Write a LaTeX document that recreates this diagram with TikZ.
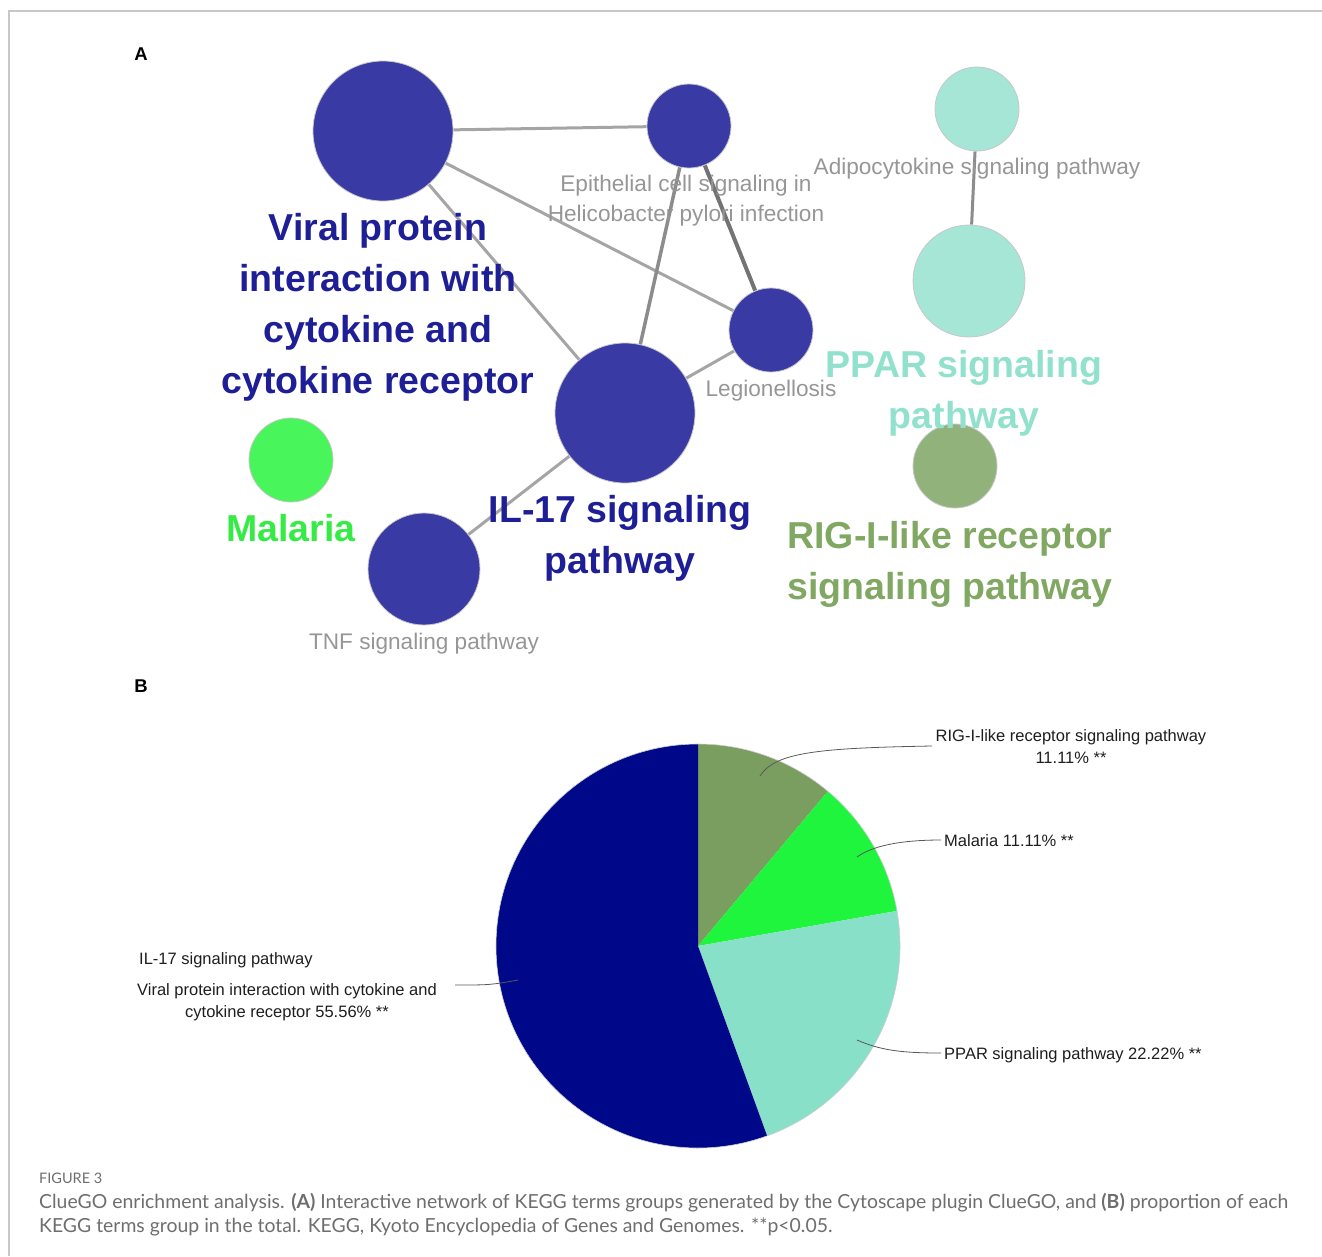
\documentclass[tikz,border=0pt]{standalone}
\usepackage{fontspec}
\setmainfont{Liberation Sans}
\newfontfamily\capfont{Lato}
\usetikzlibrary{backgrounds}
\definecolor{netblue}{RGB}{58,58,165}
\definecolor{netteal}{RGB}{166,230,214}
\definecolor{netmal}{RGB}{72,245,90}
\definecolor{netrig}{RGB}{145,178,122}
\definecolor{lblblue}{RGB}{30,30,150}
\definecolor{lblteal}{RGB}{145,225,205}
\definecolor{lblmal}{RGB}{55,235,70}
\definecolor{lblrig}{RGB}{128,168,98}
\definecolor{lblgray}{RGB}{150,150,150}
\definecolor{edgegray}{RGB}{165,165,165}
\definecolor{pieblue}{RGB}{0,8,138}
\definecolor{pierig}{RGB}{122,158,96}
\definecolor{piemal}{RGB}{30,245,60}
\definecolor{pieppar}{RGB}{137,224,200}
\definecolor{pietext}{RGB}{30,30,30}
\definecolor{capgray}{RGB}{110,110,110}
\definecolor{framegray}{RGB}{200,200,200}
\tikzset{
  x=1pt, y=-1pt,
  term/.style={circle, inner sep=0pt, draw=black!22, line width=0.8pt},
  edge/.style={draw=edgegray, line width=3pt},
  bigbold/.style={font=\fontsize{37.5}{51}\selectfont\bfseries, align=center, anchor=base, inner sep=0pt},
  graylbl/.style={font=\fontsize{22.6}{30}\selectfont, text=lblgray, align=center, anchor=base, inner sep=0pt},
  pielbl/.style={font=\fontsize{16.5}{22}\selectfont, text=pietext, inner sep=0pt, anchor=base},
  leader/.style={draw=black!65, line width=0.8pt},
  panel/.style={font=\fontsize{18.5}{20}\selectfont\bfseries, anchor=base, inner sep=0pt},
}
\begin{document}
\begin{tikzpicture}
\useasboundingbox (0,0) rectangle (1322,1256);
\draw[framegray, line width=1.2pt] (1322,11) -- (9,11) -- (9,1256);

\node[panel] (pa) at (141,60) {A};
\node[panel] (pb) at (141,692) {B};

% network nodes
\node[term, fill=netblue, minimum size=140pt] (viral) at (383,131) {};
\node[term, fill=netblue, minimum size=84pt] (epi) at (689,126) {};
\node[term, fill=netblue, minimum size=84pt] (leg) at (771,330) {};
\node[term, fill=netblue, minimum size=140pt] (il17) at (625,413) {};
\node[term, fill=netblue, minimum size=112pt] (tnf) at (424,569) {};
\node[term, fill=netmal, minimum size=84pt] (mal) at (291,460) {};
\node[term, fill=netteal, minimum size=84pt] (adipo) at (977,109) {};
\node[term, fill=netteal, minimum size=112pt] (ppar) at (969,281) {};
\node[term, fill=netrig, minimum size=84pt] (rig) at (955,466) {};

\begin{scope}[on background layer]
\draw[edge] (viral) -- (epi);
\draw[edge] (viral) -- (leg);
\draw[edge] (viral) -- (il17);
\draw[edge, draw=black!45, line width=3.5pt] (epi) -- (il17);
\draw[edge, draw=black!55, line width=4pt] (epi) -- (leg);
\draw[edge] (leg) -- (il17);
\draw[edge] (il17) -- (tnf);
\draw[edge, draw=black!45] (adipo) -- (ppar);
\end{scope}

% network labels (anchor = baseline of last line)
\node[bigbold, text=lblblue] (lviral) at (378,393) {Viral protein\\interaction with\\cytokine and\\cytokine receptor};
\node[graylbl] (lepi) at (686,221) {Epithelial cell signaling in\\Helicobacter pylori infection};
\node[graylbl] (ladipo) at (977,174) {Adipocytokine signaling pathway};
\node[graylbl] (lleg) at (771,396) {Legionellosis};
\node[bigbold, text=lblteal] (lppar) at (964,428) {PPAR signaling\\pathway};
\node[bigbold, text=lblmal] (lmal) at (291,541) {Malaria};
\node[bigbold, text=lblblue] (lil17) at (620,573) {IL-17 signaling\\pathway};
\node[bigbold, text=lblrig] (lrig) at (950,599) {RIG-I-like receptor\\signaling pathway};
\node[graylbl] (ltnf) at (424,649) {TNF signaling pathway};

% pie chart
\begin{scope}[shift={(698,946)}, yscale=-1]
\fill[pierig] (0,0) -- (50:202) arc[start angle=50, end angle=90, radius=202] -- cycle;
\fill[piemal] (0,0) -- (10:202) arc[start angle=10, end angle=50, radius=202] -- cycle;
\fill[pieppar] (0,0) -- (-70:202) arc[start angle=-70, end angle=10, radius=202] -- cycle;
\fill[pieblue] (0,0) -- (90:202) arc[start angle=90, end angle=290, radius=202] -- cycle;
\draw[black!20, line width=0.6pt] (0,0) circle[radius=202];
\coordinate (srig) at (62,170);
\coordinate (smal) at (159,89);
\coordinate (sppar) at (159,-94);
\coordinate (sblue) at (-180,-34);
\end{scope}

\node[pielbl, align=center] (prig) at (1071,763) {RIG-I-like receptor signaling pathway\\11.11\% **};
\node[pielbl, anchor=base west] (pmal) at (944,846) {Malaria 11.11\% **};
\node[pielbl, anchor=base west] (pppar) at (944,1059) {PPAR signaling pathway 22.22\% **};
\node[pielbl, anchor=base west] (pil) at (139,964) {IL-17 signaling pathway};
\node[pielbl, align=center] (pviral) at (287,1017) {Viral protein interaction with cytokine and\\cytokine receptor 55.56\% **};

\coordinate (erig) at (932,746);
\coordinate (emal) at (941,840);
\coordinate (eppar) at (941,1053);
\coordinate (eblue) at (455,985);
\draw[leader] (srig) .. controls (775,752) and (820,748) .. (erig);
\draw[leader] (smal) .. controls (872,846) and (900,840) .. (emal);
\draw[leader] (sppar) .. controls (880,1050) and (900,1053) .. (eppar);
\draw[leader] (sblue) .. controls (490,985) .. (eblue);

% caption
\node[font=\capfont\fontsize{14.5}{16}\selectfont, text=capgray, anchor=base west, inner sep=0pt] (fig) at (39,1183) {FIGURE 3};
\node[font=\capfont\fontsize{19.4}{24}\selectfont, text=capgray, anchor=base west, inner sep=0pt, align=left] (cap) at (39,1232) {ClueGO enrichment analysis. \textbf{(A)} Interactive network of KEGG terms groups generated by the Cytoscape plugin ClueGO, and \textbf{(B)} proportion of each\\KEGG terms group in the total. KEGG, Kyoto Encyclopedia of Genes and Genomes. **p{\textless}0.05.};
\end{tikzpicture}
\end{document}
